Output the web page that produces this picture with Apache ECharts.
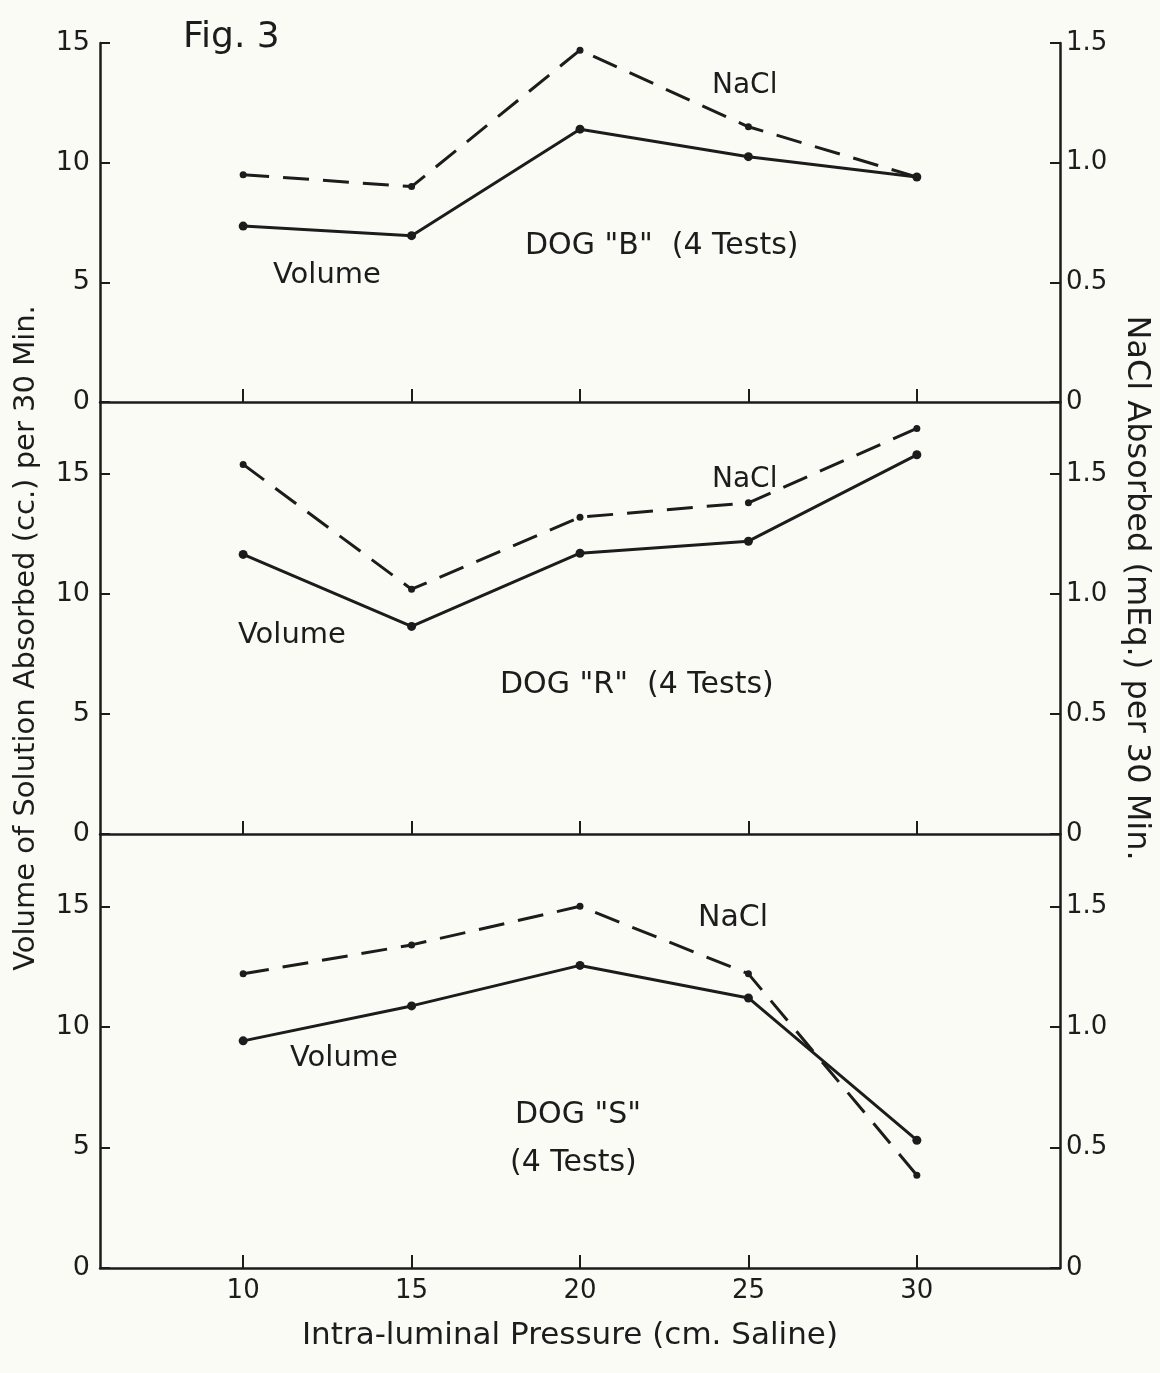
<!DOCTYPE html>
<html>
<head>
<meta charset="utf-8">
<title>Fig. 3</title>
<script src="https://cdn.jsdelivr.net/npm/echarts@6/dist/echarts.min.js"></script>
<style>
    html, body { margin: 0; padding: 0; background: #fbfbf6; }
    #chart { width: 1160px; height: 1373px; }
</style>
</head>
<body>
<div id="chart"></div>
<script>
    // x: intra-luminal pressure (cm. saline)
    const pressure = [10, 15, 20, 25, 30];

    // DOG "B"
    const dogBVolume = [7.35, 6.95, 11.4, 10.25, 9.4];
    const dogBNaCl = [0.95, 0.90, 1.47, 1.15, 0.94];
    // DOG "R"
    const dogRVolume = [11.65, 8.65, 11.7, 12.2, 15.8];
    const dogRNaCl = [1.54, 1.02, 1.32, 1.38, 1.69];
    // DOG "S"
    const dogSVolume = [9.42, 10.87, 12.55, 11.2, 5.3];
    const dogSNaCl = [1.22, 1.34, 1.50, 1.22, 0.385];

    // tick labels
    const volumeTicks = [0, 5, 10, 15];
    const naclTicks = [0, 0.5, 1.0, 1.5];

    const ink = '#1c1c1c';
    const font = 'DejaVu Sans';

    function pairs(ys) {
        return pressure.map(function (x, i) { return [x, ys[i]]; });
    }

    const grids = [
        { left: 100, right: 100, top: 43, height: 359 },
        { left: 100, right: 100, top: 402, height: 432 },
        { left: 100, right: 100, top: 834, height: 434 }
    ];

    const xAxes = grids.map(function (g, i) {
        return {
            type: 'value', gridIndex: i, min: 5.75, max: 34.25,
            axisLine: { show: true, onZero: false, lineStyle: { color: ink, width: 2.5 } },
            axisTick: { show: true, inside: true, length: 13, customValues: pressure, lineStyle: { color: ink, width: 2 } },
            axisLabel: { show: i === 2, customValues: pressure, color: ink, fontFamily: font, fontSize: 26, margin: 10 },
            splitLine: { show: false }
        };
    });

    const yMax = [15, 18, 18];
    const yAxes = [];
    yMax.forEach(function (m, i) {
        // volume (left)
        yAxes.push({
            type: 'value', gridIndex: i, position: 'left', min: 0, max: m,
            axisLine: { show: true, lineStyle: { color: ink, width: 2.5 } },
            axisTick: { show: true, inside: true, length: 10, customValues: volumeTicks, lineStyle: { color: ink, width: 2 } },
            axisLabel: { customValues: volumeTicks, color: ink, fontFamily: font, fontSize: 27, margin: 10 },
            splitLine: { show: false }
        });
        // NaCl (right)
        yAxes.push({
            type: 'value', gridIndex: i, position: 'right', min: 0, max: m / 10,
            axisLine: { show: true, lineStyle: { color: ink, width: 2.5 } },
            axisTick: { show: true, inside: true, length: 10, customValues: naclTicks, lineStyle: { color: ink, width: 2 } },
            axisLabel: {
                customValues: naclTicks, color: ink, fontFamily: font, fontSize: 26, margin: 6,
                formatter: function (v) { return v === 0 ? '0' : v.toFixed(1); }
            },
            splitLine: { show: false }
        });
    });

    function volSeries(i, ys) {
        return {
            type: 'line', xAxisIndex: i, yAxisIndex: i * 2, data: pairs(ys),
            symbol: 'circle', symbolSize: 9, itemStyle: { color: ink },
            lineStyle: { color: ink, width: 3 }, animation: false
        };
    }
    function naclSeries(i, ys) {
        return {
            type: 'line', xAxisIndex: i, yAxisIndex: i * 2 + 1, data: pairs(ys),
            symbol: 'circle', symbolSize: 7, itemStyle: { color: ink },
            lineStyle: { color: ink, width: 3, type: [26, 14] }, animation: false
        };
    }

    function note(x, y, text, size) {
        return {
            type: 'text', x: x, y: y,
            style: { text: text, fill: ink, font: (size || 29) + 'px "' + font + '"', textAlign: 'left', textVerticalAlign: 'middle' }
        };
    }

    const chart = echarts.init(document.getElementById('chart'));
    chart.setOption({
        backgroundColor: '#fbfbf6',
        grid: grids,
        xAxis: xAxes,
        yAxis: yAxes,
        series: [
            volSeries(0, dogBVolume), naclSeries(0, dogBNaCl),
            volSeries(1, dogRVolume), naclSeries(1, dogRNaCl),
            volSeries(2, dogSVolume), naclSeries(2, dogSNaCl)
        ],
        graphic: [
            note(183, 38, 'Fig. 3', 36),
            note(712, 86, 'NaCl', 28),
            note(273, 275, 'Volume'),
            note(525, 246, 'DOG "B"  (4 Tests)', 30),
            note(712, 480, 'NaCl', 28),
            note(238, 635, 'Volume'),
            note(500, 685, 'DOG "R"  (4 Tests)', 30),
            note(698, 918, 'NaCl', 30),
            note(290, 1058, 'Volume'),
            note(515, 1115, 'DOG "S"', 30),
            note(510, 1163, '(4 Tests)', 30),
            {
                type: 'text', x: 570, y: 1336,
                style: { text: 'Intra-luminal Pressure (cm. Saline)', fill: ink, font: '31px "' + font + '"', textAlign: 'center', textVerticalAlign: 'middle' }
            },
            {
                type: 'text', x: 26, y: 638, rotation: Math.PI / 2,
                style: { text: 'Volume of Solution Absorbed (cc.) per 30 Min.', fill: ink, font: '29px "' + font + '"', textAlign: 'center', textVerticalAlign: 'middle' }
            },
            {
                type: 'text', x: 1136, y: 588, rotation: -Math.PI / 2,
                style: { text: 'NaCl Absorbed (mEq.) per 30 Min.', fill: ink, font: '32px "' + font + '"', textAlign: 'center', textVerticalAlign: 'middle' }
            }
        ]
    });
</script>
</body>
</html>
